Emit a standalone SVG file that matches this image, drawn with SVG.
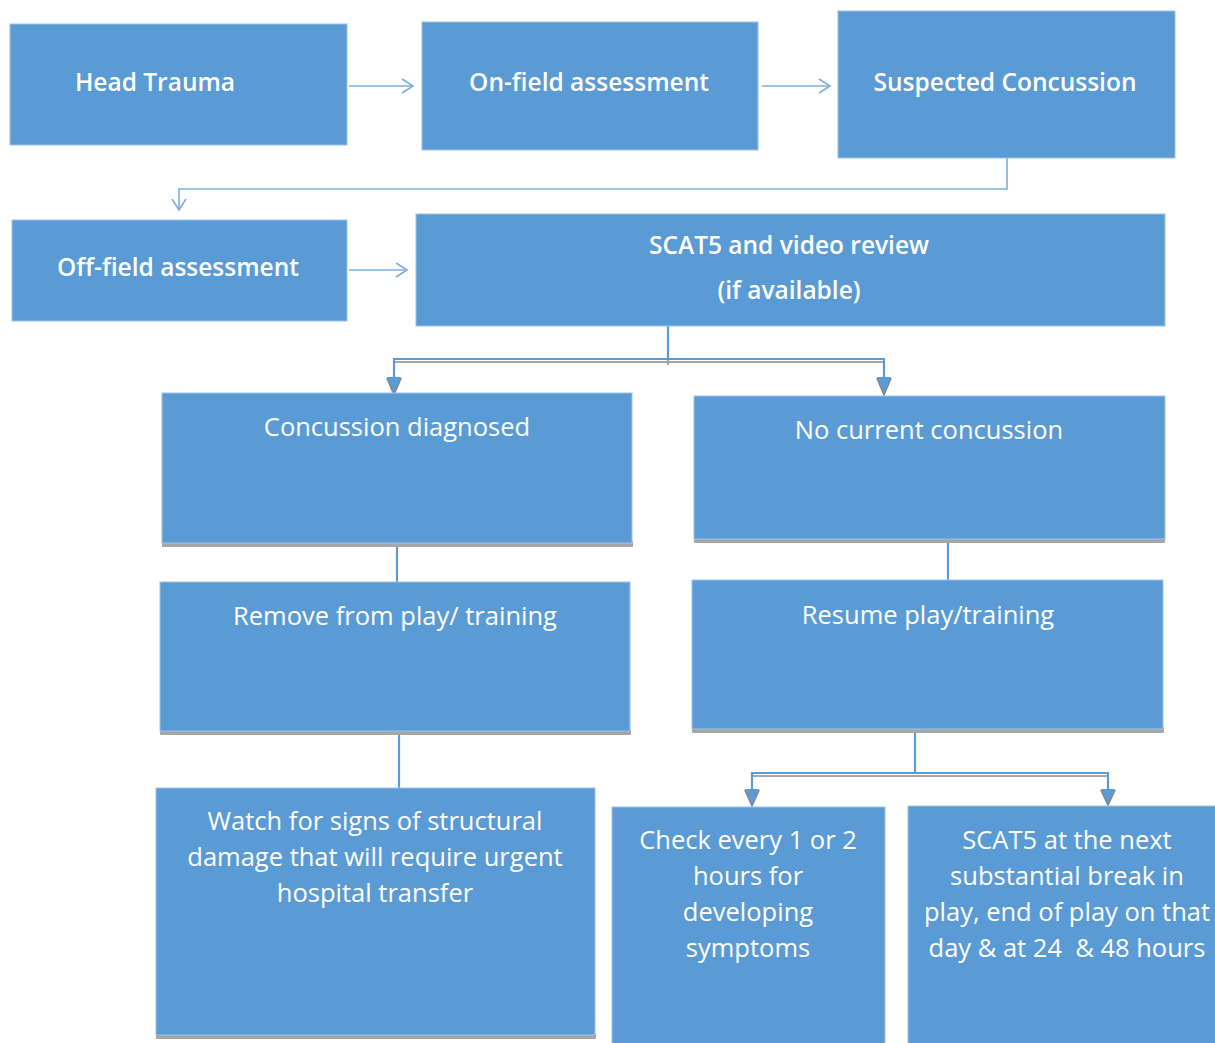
<svg xmlns="http://www.w3.org/2000/svg" width="1215" height="1043" viewBox="0 0 1215 1043">
<defs>
<style>
.box{fill:#5B9BD5;stroke:#9DC3E6;stroke-width:1}
.shadow{fill:#A6A6A6}
.tb{font-family:"Open Sans","Liberation Sans",sans-serif;font-weight:600;font-size:24.5px;fill:#fff;text-anchor:middle}
.tr{font-family:"Open Sans","Liberation Sans",sans-serif;font-size:25.5px;fill:#fff;text-anchor:middle}
.ln{fill:none;stroke:#7FAEDC;stroke-width:1.6}
.cn{fill:none;stroke:#5B9BD5;stroke-width:2.2}
.cs{fill:none;stroke:#A6A6A6;stroke-width:2}
</style>
<marker id="open" markerWidth="16" markerHeight="16" refX="13" refY="8" orient="auto" markerUnits="userSpaceOnUse">
<path d="M2,1 L13,8 L2,15" fill="none" stroke="#7FAEDC" stroke-width="1.6"/>
</marker>
</defs>
<rect width="1215" height="1043" fill="#fff"/>
<g id="connectors">
<line class="ln" x1="349" y1="86" x2="413" y2="86" marker-end="url(#open)"/>
<line class="ln" x1="762" y1="86" x2="830" y2="86" marker-end="url(#open)"/>
<polyline class="ln" points="1007,158 1007,189 179,189 179,210" marker-end="url(#open)"/>
<line class="ln" x1="349" y1="270" x2="407" y2="270" marker-end="url(#open)"/>
<polyline class="cs" points="394,362 884,362"/>
<line class="cs" x1="668" y1="340" x2="668" y2="365"/>
<line class="cn" x1="668" y1="326" x2="668" y2="359"/>
<polyline class="cn" points="394,378 394,359 884,359 884,378"/>
<polygon points="386,378 402,378 394,397" fill="#888"/>
<polygon points="387,377 401,377 394,393" fill="#5B9BD5"/>
<polygon points="876,378 892,378 884,397" fill="#888"/>
<polygon points="877,377 891,377 884,393" fill="#5B9BD5"/>
<line class="cn" x1="397" y1="545" x2="397" y2="582"/>
<line class="cn" x1="948" y1="541" x2="948" y2="589"/>
<line class="cn" x1="399" y1="733" x2="399" y2="788"/>
<line class="cs" x1="752" y1="776" x2="1108" y2="776"/>
<line class="cn" x1="915" y1="731" x2="915" y2="772"/>
<polyline class="cn" points="752,790 752,773 1108,773 1108,790"/>
<polygon points="744,790 760,790 752,808" fill="#888"/>
<polygon points="745,789 759,789 752,805" fill="#5B9BD5"/>
<polygon points="1100,790 1116,790 1108,807" fill="#888"/>
<polygon points="1101,789 1115,789 1108,804" fill="#5B9BD5"/>
</g>
<g id="head-trauma">
<rect class="box" x="10" y="24" width="337" height="121"/>
<text class="tb" x="155" y="91">Head Trauma</text>
</g>
<g id="on-field">
<rect class="box" x="422" y="22" width="336" height="128"/>
<text class="tb" x="589" y="91">On-field assessment</text>
</g>
<g id="suspected">
<rect class="box" x="838" y="11" width="337" height="147"/>
<text class="tb" x="1005" y="91">Suspected Concussion</text>
</g>
<g id="off-field">
<rect class="box" x="12" y="220" width="335" height="101"/>
<text class="tb" x="178" y="276">Off-field assessment</text>
</g>
<g id="scat5-review">
<rect class="box" x="416" y="214" width="749" height="112"/>
<text class="tb" x="789" y="254">SCAT5 and video review</text>
<text class="tb" x="789" y="299">(if available)</text>
</g>
<g id="concussion-diagnosed">
<rect class="shadow" x="162" y="541" width="471" height="6" rx="1"/>
<rect class="box" x="162" y="393" width="470" height="150"/>
<text class="tr" x="397" y="436">Concussion diagnosed</text>
</g>
<g id="no-concussion">
<rect class="shadow" x="694" y="537" width="471" height="6" rx="1"/>
<rect class="box" x="694" y="396" width="471" height="143"/>
<text class="tr" x="929" y="439">No current concussion</text>
</g>
<g id="remove">
<rect class="shadow" x="160" y="729" width="471" height="6" rx="1"/>
<rect class="box" x="160" y="582" width="470" height="149"/>
<text class="tr" x="395" y="625">Remove from play/ training</text>
</g>
<g id="resume">
<rect class="shadow" x="692" y="727" width="472" height="6" rx="1"/>
<rect class="box" x="692" y="580" width="471" height="149"/>
<text class="tr" x="928" y="624">Resume play/training</text>
</g>
<g id="watch">
<rect class="shadow" x="156" y="1033" width="440" height="6" rx="1"/>
<rect class="box" x="156" y="788" width="439" height="247"/>
<text class="tr" x="375" y="830">Watch for signs of structural</text>
<text class="tr" x="375" y="866">damage that will require urgent</text>
<text class="tr" x="375" y="902">hospital transfer</text>
</g>
<g id="check-every">
<rect class="box" x="612" y="807" width="273" height="240"/>
<text class="tr" x="748" y="849">Check every 1 or 2</text>
<text class="tr" x="748" y="885">hours for</text>
<text class="tr" x="748" y="921">developing</text>
<text class="tr" x="748" y="957">symptoms</text>
</g>
<g id="scat5-next">
<rect class="box" x="908" y="806" width="310" height="241"/>
<text class="tr" x="1067" y="849">SCAT5 at the next</text>
<text class="tr" x="1067" y="885">substantial break in</text>
<text class="tr" x="1067" y="921">play, end of play on that</text>
<text class="tr" x="1067" y="957" style="white-space:pre">day &amp; at 24  &amp; 48 hours</text>
</g>
</svg>
